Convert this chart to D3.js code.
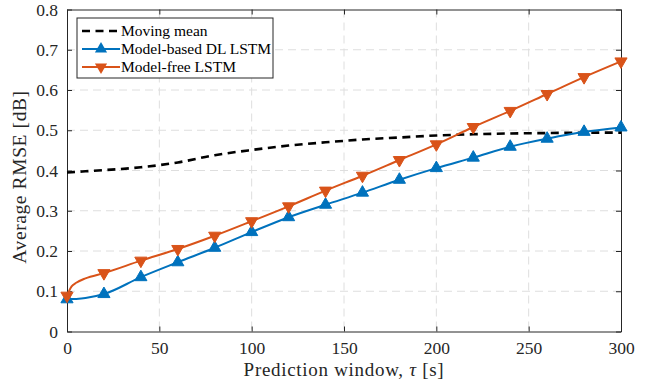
<!DOCTYPE html>
<html>
<head>
<meta charset="utf-8">
<script src="https://cdn.jsdelivr.net/npm/d3@7"></script>
<style>
  body { margin: 0; background: #fff; }
  svg { display: block; font-family: "Liberation Serif", "Times New Roman", serif; }
</style>
</head>
<body>
<div id="chart"></div>
<script>
// sample points of the prediction window (s)
var tau = [0, 2.5, 5, 10, 20, 40, 60, 80, 100, 120, 140, 160, 180, 200, 220, 240, 260, 280, 300];

var movingMean = [0.395, 0.3957, 0.3965, 0.398, 0.401, 0.408, 0.420, 0.438, 0.451, 0.462, 0.470, 0.477, 0.482, 0.487, 0.490, 0.492, 0.493, 0.494, 0.494];
var modelBased = [0.080, 0.0805, 0.081, 0.083, 0.093, 0.135, 0.172, 0.208, 0.247, 0.284, 0.315, 0.345, 0.377, 0.406, 0.432, 0.459, 0.479, 0.496, 0.507];
var modelFree  = [0.089, 0.112, 0.121, 0.132, 0.145, 0.176, 0.205, 0.238, 0.274, 0.311, 0.350, 0.387, 0.426, 0.465, 0.508, 0.548, 0.590, 0.632, 0.671];

var xTicks = [0, 50, 100, 150, 200, 250, 300];
var yTicks = [0, 0.1, 0.2, 0.3, 0.4, 0.5, 0.6, 0.7, 0.8];
var seriesNames = ["Moving mean", "Model-based DL LSTM", "Model-free LSTM"];

var width = 653, height = 384;
var margin = { top: 9.5, right: 32, bottom: 52.5, left: 67 };
var innerW = width - margin.left - margin.right;
var innerH = height - margin.top - margin.bottom;

var svg = d3.select("#chart").append("svg")
    .attr("width", width)
    .attr("height", height);

var g = svg.append("g")
    .attr("transform", "translate(" + margin.left + "," + margin.top + ")");

var x = d3.scaleLinear().domain([0, 300]).range([0, innerW]);
var y = d3.scaleLinear().domain([0, 0.8]).range([innerH, 0]);

var axisColor = "#262626";

// grid
g.append("g").selectAll("line")
    .data(xTicks.slice(1, -1))
    .enter().append("line")
    .attr("x1", d => x(d)).attr("x2", d => x(d))
    .attr("y1", 0).attr("y2", innerH)
    .attr("stroke", "#dedede").attr("stroke-width", 1)
    .attr("stroke-dasharray", "8,5");
g.append("g").selectAll("line")
    .data(yTicks.slice(1, -1))
    .enter().append("line")
    .attr("x1", 0).attr("x2", innerW)
    .attr("y1", d => y(d)).attr("y2", d => y(d))
    .attr("stroke", "#dedede").attr("stroke-width", 1)
    .attr("stroke-dasharray", "8,5");

// axes (ticks inward on all sides)
var tickLen = 5;
var xAxis = g.append("g")
    .attr("transform", "translate(0," + innerH + ")")
    .call(d3.axisBottom(x).tickValues(xTicks).tickSizeInner(-tickLen).tickSizeOuter(0).tickPadding(10));
var xTop = g.append("g")
    .call(d3.axisTop(x).tickValues(xTicks).tickSizeInner(-tickLen).tickSizeOuter(0).tickFormat(""));
var yAxis = g.append("g")
    .call(d3.axisLeft(y).tickValues(yTicks).tickSizeInner(-tickLen).tickSizeOuter(0).tickPadding(9)
        .tickFormat(d => d === 0 ? "0" : d3.format(".1f")(d)));
var yRight = g.append("g")
    .attr("transform", "translate(" + innerW + ",0)")
    .call(d3.axisRight(y).tickValues(yTicks).tickSizeInner(-tickLen).tickSizeOuter(0).tickFormat(""));

[xAxis, xTop, yAxis, yRight].forEach(function(a) {
    a.select(".domain").attr("stroke", axisColor).attr("stroke-width", 1);
    a.selectAll(".tick line").attr("stroke", axisColor);
    a.selectAll("text").attr("fill", axisColor).style("font-size", "17.5px")
        .style("font-family", "'Liberation Serif', serif");
});

// lines
var series = [
    { name: seriesNames[0], values: movingMean, color: "#000000", dash: "8,5.5", width: 2.6, marker: null },
    { name: seriesNames[1], values: modelBased, color: "#0072BD", dash: null, width: 2, marker: "up" },
    { name: seriesNames[2], values: modelFree, color: "#D95319", dash: null, width: 2, marker: "down" }
];

var line = d3.line()
    .x(d => x(d[0]))
    .y(d => y(d[1]))
    .curve(d3.curveMonotoneX);

var triUp = d3.symbol().type(d3.symbolTriangle).size(64);

series.forEach(function(s) {
    var pts = tau.map((t, i) => [t, s.values[i]]);
    g.append("path")
        .datum(pts)
        .attr("fill", "none")
        .attr("stroke", s.color)
        .attr("stroke-width", s.width)
        .attr("stroke-dasharray", s.dash)
        .attr("d", line);
    if (s.marker) {
        g.append("g").selectAll("path")
            .data(pts.filter(p => p[0] % 20 === 0))
            .enter().append("path")
            .attr("d", triUp)
            .attr("fill", s.color)
            .attr("stroke", s.color)
            .attr("stroke-width", 1)
            .attr("transform", p => "translate(" + x(p[0]) + "," + y(p[1]) + ")" + (s.marker === "down" ? " rotate(180)" : ""));
    }
});

// axis labels
svg.append("text")
    .attr("x", margin.left + innerW / 2)
    .attr("y", 376)
    .attr("text-anchor", "middle")
    .attr("fill", axisColor)
    .style("font-size", "19px")
    .style("letter-spacing", "0.7px")
    .html("Prediction window, <tspan font-style='italic'>τ</tspan> [s]");

svg.append("text")
    .attr("transform", "translate(26," + 177 + ") rotate(-90)")
    .attr("text-anchor", "middle")
    .attr("fill", axisColor)
    .style("font-size", "19.5px")
    .style("letter-spacing", "0.6px")
    .text("Average RMSE [dB]");

// legend
var lg = svg.append("g").attr("transform", "translate(77,18)");
lg.append("rect")
    .attr("width", 196).attr("height", 60)
    .attr("fill", "#fff").attr("stroke", axisColor).attr("stroke-width", 1);

series.forEach(function(s, i) {
    var ly = 13 + i * 18;
    lg.append("line")
        .attr("x1", 5).attr("x2", 43)
        .attr("y1", ly).attr("y2", ly)
        .attr("stroke", s.color)
        .attr("stroke-width", s.width)
        .attr("stroke-dasharray", s.dash);
    if (s.marker) {
        lg.append("path")
            .attr("d", triUp)
            .attr("fill", s.color)
            .attr("transform", "translate(24," + ly + ")" + (s.marker === "down" ? " rotate(180)" : ""));
    }
    lg.append("text")
        .attr("x", 44).attr("y", ly + 5)
        .attr("fill", "#000")
        .style("font-size", "15.5px")
        .text(s.name);
});
</script>
</body>
</html>
